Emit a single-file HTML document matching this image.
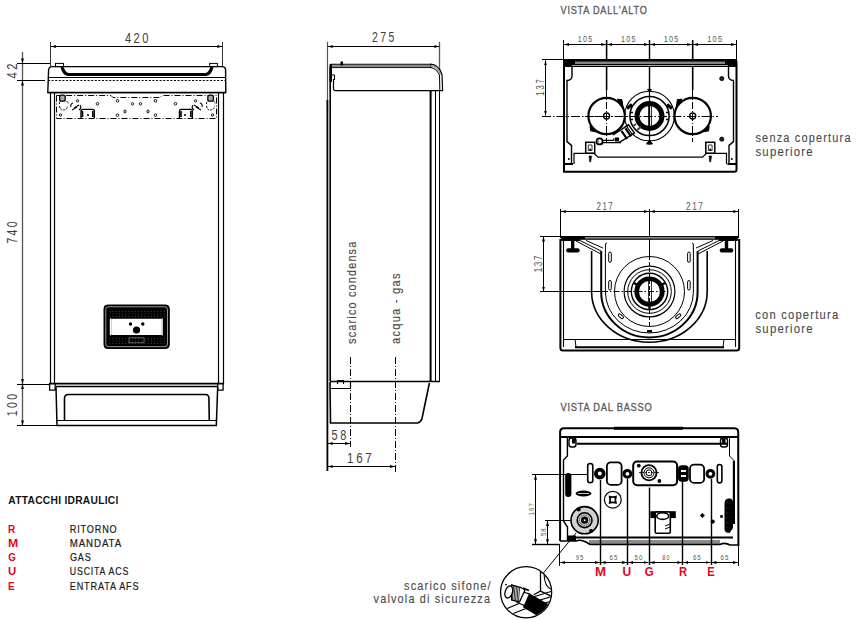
<!DOCTYPE html>
<html><head><meta charset="utf-8">
<style>
html,body{margin:0;padding:0;background:#fff;width:859px;height:620px;overflow:hidden}
svg{display:block}
text{font-family:"Liberation Sans",sans-serif}
.dt{fill:#3a3a3a;font-size:12px}
.lb{fill:#5a5a5a;font-size:12px}
.ttl{fill:#5a5a5a;font-size:12px}
</style></head><body>
<svg width="859" height="620" viewBox="0 0 859 620">
<defs>
<marker id="ar" viewBox="0 0 5 3" refX="5" refY="1.5" markerWidth="5" markerHeight="3" orient="auto-start-reverse" markerUnits="userSpaceOnUse"><path d="M0,0 L5,1.5 L0,3 z" fill="#000"/></marker>
</defs>

<!-- ================= FRONT VIEW ================= -->
<g id="front" fill="none" stroke="#000">
  <!-- dim 420 -->
  <line x1="50.5" y1="42" x2="50.5" y2="66" stroke="#333" stroke-width="1"/>
  <line x1="222.5" y1="42" x2="222.5" y2="66" stroke="#333" stroke-width="1"/>
  <line x1="51" y1="46.5" x2="222.3" y2="46.5" stroke-width="1" marker-start="url(#ar)" marker-end="url(#ar)"/>
  <!-- vertical dims -->
  <line x1="22.5" y1="52" x2="22.5" y2="425.5" stroke="#555" stroke-width="1.3"/>
  <line x1="17" y1="63.5" x2="50" y2="63.5" stroke-width="1"/>
  <line x1="17" y1="80.5" x2="45" y2="80.5" stroke-width="1"/>
  <line x1="17" y1="384.5" x2="50" y2="384.5" stroke-width="1"/>
  <line x1="17" y1="425.5" x2="57" y2="425.5" stroke-width="1"/>

  <path d="M21.1,58.5 L23.9,58.5 L22.5,63.5 Z M21.1,85.5 L23.9,85.5 L22.5,80.5 Z M21.1,379 L23.9,379 L22.5,384 Z M21.1,389 L23.9,389 L22.5,384 Z M21.1,420.5 L23.9,420.5 L22.5,425.5 Z" fill="#000" stroke="none"/>
  <!-- top cap -->
  <path d="M47.8,92.6 L48.6,70 Q49,66.6 52,66.6 L222,66.6 Q225.5,66.6 225.6,70 L225.8,92.6 Z" stroke-width="1.4"/>
  <rect x="55.5" y="63.4" width="8" height="3.2" stroke-width="1"/>
  <rect x="209.7" y="63.4" width="7.7" height="3.2" stroke-width="1"/>
  <path d="M62,67 Q64,74 68,74.5 L206,74.5 Q210,74 212,67" stroke-width="3.2"/>
  <line x1="48" y1="77.5" x2="225.6" y2="77.5" stroke-width="1"/>
  <line x1="48" y1="80.5" x2="225.6" y2="80.5" stroke-width="1" stroke-dasharray="2,1.6"/>
  <line x1="48" y1="92.5" x2="225.8" y2="92.5" stroke-width="1.4"/>

  <!-- body sides -->
  <line x1="50.5" y1="92.6" x2="50.5" y2="384" stroke-width="1.2"/>
  <line x1="54.5" y1="92.6" x2="54.5" y2="384" stroke-width="1.2"/>
  <line x1="218.5" y1="92.6" x2="218.5" y2="384" stroke-width="1.2"/>
  <line x1="223.5" y1="92.6" x2="223.5" y2="384" stroke-width="1.2"/>

  <!-- bracket plate -->
  <path d="M56.5,95.5 L56.5,118.5 L216.5,118.5 L216.5,95.5 L162,95.5 L160,97.5 L113,97.5 L111,95.5 Z" stroke-width="1" stroke-dasharray="6,2,1,2"/>
  <g id="plateL">
    <rect x="59.6" y="95.2" width="5.6" height="6" rx="2" fill="#aaa" stroke-width="1.3"/>
    <path d="M59.5,104 Q59,101.5 61,101.5 M66.5,101.5 Q68.5,101.5 68,104 M59.5,106 Q60,110 63,110 Q67,110 67.5,106" stroke-width="1" stroke-dasharray="2,1"/>
    <circle cx="60.5" cy="115" r="1.2" stroke-width="0.9"/>
    <circle cx="77.5" cy="100.8" r="1.2" stroke-width="0.9"/>
    <path d="M73,103 Q70,104 71,107 M74,108 L79,105 M72,110 L77,107 M79,110 Q82,108 80,105" stroke-width="1.1"/>
    <path d="M81,118 L81,111 Q81,109.4 83,109.4 L93,109.4 Q94.3,109.4 94.3,111 L94.3,118" stroke-width="1.4"/>
    <path d="M82.5,117 L82.5,111 M92.8,117 L92.8,111" stroke-width="1.6"/>
    <circle cx="88" cy="115" r="1" fill="#000" stroke="none"/>
    <circle cx="97.5" cy="103.8" r="1.3" stroke-width="0.9"/>
    <circle cx="117.5" cy="100.8" r="1.3" stroke-width="0.9"/>
    <circle cx="117.5" cy="115.2" r="1.3" stroke-width="0.9"/>
    <circle cx="132.5" cy="103.8" r="1.2" stroke-width="0.9"/>
    <circle cx="140.5" cy="103.8" r="1.2" stroke-width="0.9"/>
    <rect x="124" y="110" width="2" height="3" rx="1" stroke-width="0.9"/>
    <rect x="147" y="110" width="2" height="3" rx="1" stroke-width="0.9"/>
    <circle cx="155.5" cy="100.8" r="1.3" stroke-width="0.9"/>
    <circle cx="155.5" cy="115.2" r="1.3" stroke-width="0.9"/>
    <circle cx="175.5" cy="103.8" r="1.3" stroke-width="0.9"/>
    <path d="M179.5,118 L179.5,111 Q179.5,109.4 181,109.4 L191,109.4 Q192.3,109.4 192.3,111 L192.3,118" stroke-width="1.4"/>
    <path d="M181,117 L181,111 M190.8,117 L190.8,111" stroke-width="1.6"/>
    <circle cx="185" cy="115" r="1" fill="#000" stroke="none"/>
    <circle cx="195.5" cy="100.8" r="1.2" stroke-width="0.9"/>
    <path d="M200,103 Q203,104 202,107 M199,108 L194,105 M201,110 L196,107 M194,110 Q191,108 193,105" stroke-width="1.1"/>
    <rect x="207.8" y="95.2" width="5.6" height="6" rx="2" fill="#aaa" stroke-width="1.3"/>
    <path d="M206.5,104 Q206,101.5 208,101.5 M213.5,101.5 Q215.5,101.5 215,104 M206.5,106 Q207,110 210,110 Q214,110 214.5,106" stroke-width="1" stroke-dasharray="2,1"/>
    <circle cx="212.5" cy="115" r="1.2" stroke-width="0.9"/>
  </g>

  <!-- bottom -->
  <line x1="49" y1="383.6" x2="224" y2="383.6" stroke-width="1.8"/>
  <line x1="56" y1="386.6" x2="218" y2="386.6" stroke-width="1.5"/>
  <path d="M56,387 L57,425.5 L216.3,425.5 L217.7,387" stroke-width="1.5"/>
  <path d="M49.6,383.5 L49.6,390.2 L55.2,390.2 L55.2,383.5" stroke-width="1.3"/>
  <path d="M217.7,383.5 L217.7,390.2 L223.1,390.2 L223.1,383.5" stroke-width="1.3"/>
  <path d="M64.5,421 L64.5,398 Q64.8,394.5 68.5,394.5 L205.5,394.5 Q208.8,394.6 208.9,398 L209.3,421" stroke-width="1.6"/>
  <line x1="57" y1="420.5" x2="217" y2="420.5" stroke-width="1"/>

  <!-- control panel -->
  <rect x="104" y="305" width="65.3" height="43.5" rx="3.5" fill="#000" stroke-width="1"/>
  <rect x="105.8" y="306.8" width="61.7" height="39.9" rx="2.5" stroke="#fff" stroke-width="0.6"/>
  <rect x="111.3" y="318.8" width="50" height="16.3" rx="1" fill="#fff" stroke="none"/>
  <g fill="#888" stroke="none"><rect x="109.5" y="311.0" width="0.7" height="0.7"/><rect x="112.7" y="311.0" width="0.7" height="0.7"/><rect x="115.9" y="311.0" width="0.7" height="0.7"/><rect x="119.1" y="311.0" width="0.7" height="0.7"/><rect x="122.3" y="311.0" width="0.7" height="0.7"/><rect x="125.5" y="311.0" width="0.7" height="0.7"/><rect x="128.7" y="311.0" width="0.7" height="0.7"/><rect x="131.9" y="311.0" width="0.7" height="0.7"/><rect x="135.1" y="311.0" width="0.7" height="0.7"/><rect x="138.3" y="311.0" width="0.7" height="0.7"/><rect x="141.5" y="311.0" width="0.7" height="0.7"/><rect x="144.7" y="311.0" width="0.7" height="0.7"/><rect x="147.9" y="311.0" width="0.7" height="0.7"/><rect x="151.1" y="311.0" width="0.7" height="0.7"/><rect x="154.3" y="311.0" width="0.7" height="0.7"/><rect x="157.5" y="311.0" width="0.7" height="0.7"/><rect x="160.7" y="311.0" width="0.7" height="0.7"/><rect x="163.9" y="311.0" width="0.7" height="0.7"/><rect x="109.5" y="313.6" width="0.7" height="0.7"/><rect x="112.7" y="313.6" width="0.7" height="0.7"/><rect x="115.9" y="313.6" width="0.7" height="0.7"/><rect x="119.1" y="313.6" width="0.7" height="0.7"/><rect x="122.3" y="313.6" width="0.7" height="0.7"/><rect x="125.5" y="313.6" width="0.7" height="0.7"/><rect x="128.7" y="313.6" width="0.7" height="0.7"/><rect x="131.9" y="313.6" width="0.7" height="0.7"/><rect x="135.1" y="313.6" width="0.7" height="0.7"/><rect x="138.3" y="313.6" width="0.7" height="0.7"/><rect x="141.5" y="313.6" width="0.7" height="0.7"/><rect x="144.7" y="313.6" width="0.7" height="0.7"/><rect x="147.9" y="313.6" width="0.7" height="0.7"/><rect x="151.1" y="313.6" width="0.7" height="0.7"/><rect x="154.3" y="313.6" width="0.7" height="0.7"/><rect x="157.5" y="313.6" width="0.7" height="0.7"/><rect x="160.7" y="313.6" width="0.7" height="0.7"/><rect x="163.9" y="313.6" width="0.7" height="0.7"/><rect x="109.5" y="316.2" width="0.7" height="0.7"/><rect x="112.7" y="316.2" width="0.7" height="0.7"/><rect x="115.9" y="316.2" width="0.7" height="0.7"/><rect x="119.1" y="316.2" width="0.7" height="0.7"/><rect x="122.3" y="316.2" width="0.7" height="0.7"/><rect x="125.5" y="316.2" width="0.7" height="0.7"/><rect x="128.7" y="316.2" width="0.7" height="0.7"/><rect x="131.9" y="316.2" width="0.7" height="0.7"/><rect x="135.1" y="316.2" width="0.7" height="0.7"/><rect x="138.3" y="316.2" width="0.7" height="0.7"/><rect x="141.5" y="316.2" width="0.7" height="0.7"/><rect x="144.7" y="316.2" width="0.7" height="0.7"/><rect x="147.9" y="316.2" width="0.7" height="0.7"/><rect x="151.1" y="316.2" width="0.7" height="0.7"/><rect x="154.3" y="316.2" width="0.7" height="0.7"/><rect x="157.5" y="316.2" width="0.7" height="0.7"/><rect x="160.7" y="316.2" width="0.7" height="0.7"/><rect x="163.9" y="316.2" width="0.7" height="0.7"/><rect x="109.5" y="338.0" width="0.7" height="0.7"/><rect x="112.7" y="338.0" width="0.7" height="0.7"/><rect x="115.9" y="338.0" width="0.7" height="0.7"/><rect x="119.1" y="338.0" width="0.7" height="0.7"/><rect x="122.3" y="338.0" width="0.7" height="0.7"/><rect x="125.5" y="338.0" width="0.7" height="0.7"/><rect x="128.7" y="338.0" width="0.7" height="0.7"/><rect x="131.9" y="338.0" width="0.7" height="0.7"/><rect x="135.1" y="338.0" width="0.7" height="0.7"/><rect x="138.3" y="338.0" width="0.7" height="0.7"/><rect x="141.5" y="338.0" width="0.7" height="0.7"/><rect x="144.7" y="338.0" width="0.7" height="0.7"/><rect x="147.9" y="338.0" width="0.7" height="0.7"/><rect x="151.1" y="338.0" width="0.7" height="0.7"/><rect x="154.3" y="338.0" width="0.7" height="0.7"/><rect x="157.5" y="338.0" width="0.7" height="0.7"/><rect x="160.7" y="338.0" width="0.7" height="0.7"/><rect x="163.9" y="338.0" width="0.7" height="0.7"/><rect x="109.5" y="340.6" width="0.7" height="0.7"/><rect x="112.7" y="340.6" width="0.7" height="0.7"/><rect x="115.9" y="340.6" width="0.7" height="0.7"/><rect x="119.1" y="340.6" width="0.7" height="0.7"/><rect x="122.3" y="340.6" width="0.7" height="0.7"/><rect x="125.5" y="340.6" width="0.7" height="0.7"/><rect x="128.7" y="340.6" width="0.7" height="0.7"/><rect x="131.9" y="340.6" width="0.7" height="0.7"/><rect x="135.1" y="340.6" width="0.7" height="0.7"/><rect x="138.3" y="340.6" width="0.7" height="0.7"/><rect x="141.5" y="340.6" width="0.7" height="0.7"/><rect x="144.7" y="340.6" width="0.7" height="0.7"/><rect x="147.9" y="340.6" width="0.7" height="0.7"/><rect x="151.1" y="340.6" width="0.7" height="0.7"/><rect x="154.3" y="340.6" width="0.7" height="0.7"/><rect x="157.5" y="340.6" width="0.7" height="0.7"/><rect x="160.7" y="340.6" width="0.7" height="0.7"/><rect x="163.9" y="340.6" width="0.7" height="0.7"/><rect x="109.5" y="343.2" width="0.7" height="0.7"/><rect x="112.7" y="343.2" width="0.7" height="0.7"/><rect x="115.9" y="343.2" width="0.7" height="0.7"/><rect x="119.1" y="343.2" width="0.7" height="0.7"/><rect x="122.3" y="343.2" width="0.7" height="0.7"/><rect x="125.5" y="343.2" width="0.7" height="0.7"/><rect x="128.7" y="343.2" width="0.7" height="0.7"/><rect x="131.9" y="343.2" width="0.7" height="0.7"/><rect x="135.1" y="343.2" width="0.7" height="0.7"/><rect x="138.3" y="343.2" width="0.7" height="0.7"/><rect x="141.5" y="343.2" width="0.7" height="0.7"/><rect x="144.7" y="343.2" width="0.7" height="0.7"/><rect x="147.9" y="343.2" width="0.7" height="0.7"/><rect x="151.1" y="343.2" width="0.7" height="0.7"/><rect x="154.3" y="343.2" width="0.7" height="0.7"/><rect x="157.5" y="343.2" width="0.7" height="0.7"/><rect x="160.7" y="343.2" width="0.7" height="0.7"/><rect x="163.9" y="343.2" width="0.7" height="0.7"/></g>
  <rect x="109.8" y="318.3" width="1.6" height="17.2" rx="0.8" fill="#fff" stroke="none"/>
  <rect x="161.2" y="318.3" width="1.6" height="17.2" rx="0.8" fill="#fff" stroke="none"/>
  <rect x="129" y="337.8" width="15" height="5" fill="none" stroke="#999" stroke-width="0.6"/>
  <circle cx="130.5" cy="324" r="1.7" fill="#000" stroke="none"/>
  <circle cx="142.8" cy="324" r="1.7" fill="#000" stroke="none"/>
  <circle cx="136.5" cy="330" r="3.6" fill="#000" stroke="none"/>
</g>

<!-- ================= SIDE VIEW ================= -->
<g id="side" fill="none" stroke="#000">
  <line x1="327.5" y1="41.8" x2="327.5" y2="110" stroke="#555" stroke-width="1.2"/>
  <line x1="327.4" y1="100" x2="327.4" y2="471" stroke-width="1.8"/>
  <line x1="439.5" y1="41.8" x2="439.5" y2="70" stroke="#555" stroke-width="1.3"/>
  <line x1="327.6" y1="46.5" x2="439.4" y2="46.5" stroke-width="1" marker-start="url(#ar)" marker-end="url(#ar)"/>
  <line x1="330.2" y1="66" x2="330.2" y2="381" stroke-width="1.6"/>
  <!-- cap -->
  <rect x="331" y="64.2" width="100" height="3.4" fill="#8c8c8c" stroke="#000" stroke-width="0.9"/>
  <path d="M430.5,64.2 Q438.5,64.5 442,74.5 L442.6,90.6 L335,90.6 Q334,90.6 333.5,89 L333.5,79" stroke-width="1.2"/>
  <path d="M430.5,67.6 Q436,68 439.5,75 L439.8,90" stroke-width="1"/>
  <path d="M431,65.8 Q437,66.5 440.6,74.5" stroke="#999" stroke-width="1.4"/>
  <rect x="340.5" y="61.5" width="2.5" height="4" fill="#000" stroke="none"/>
  <rect x="329.6" y="64" width="2.4" height="18" fill="#000" stroke="none"/>
  <path d="M332,75 L334.5,75 L334.5,80" stroke-width="1"/>
  <!-- body -->
  <line x1="430.6" y1="90.8" x2="430.6" y2="381.5" stroke-width="2"/>
  <line x1="435.5" y1="90.8" x2="435.5" y2="381.5" stroke-width="1"/>
  <line x1="439.5" y1="90.8" x2="439.5" y2="381.5" stroke-width="1"/>
  <line x1="330" y1="381.5" x2="440" y2="381.5" stroke-width="1.7"/>
  <!-- tray -->
  <path d="M330,382 L330.5,423 L417.7,423 Q421,422 422,418.5 L429.4,383" stroke-width="1.6"/>
  <path d="M330,388.5 L350.5,388.5 L350.5,381" stroke-width="1.2"/>
  <path d="M337.5,384 L337.5,380.5 L343.5,380.5 L343.5,384" stroke-width="1.2"/>
  <!-- dash-dot lines -->
  <line x1="350.5" y1="357" x2="350.5" y2="447" stroke-width="1" stroke-dasharray="7,2,1,2"/>
  <line x1="395.5" y1="357" x2="395.5" y2="472" stroke-width="1" stroke-dasharray="7,2,1,2"/>
  <!-- dims 58 & 167 -->
  <line x1="327.6" y1="443.5" x2="350.1" y2="443.5" stroke-width="1" marker-start="url(#ar)" marker-end="url(#ar)"/>
  <line x1="327.6" y1="466.5" x2="394.9" y2="466.5" stroke-width="1" marker-start="url(#ar)" marker-end="url(#ar)"/>
</g>

<!-- ================= TOP VIEW ================= -->
<g id="top" fill="none" stroke="#000">
  <!-- dims 105 -->
  <line x1="564.0" y1="44.5" x2="606.1" y2="44.5" stroke-width="1" marker-start="url(#ar)" marker-end="url(#ar)"/>
  <line x1="607.1" y1="44.5" x2="649.0" y2="44.5" stroke-width="1" marker-start="url(#ar)" marker-end="url(#ar)"/>
  <line x1="650.0" y1="44.5" x2="692.2" y2="44.5" stroke-width="1" marker-start="url(#ar)" marker-end="url(#ar)"/>
  <line x1="693.2" y1="44.5" x2="736.0" y2="44.5" stroke-width="1" marker-start="url(#ar)" marker-end="url(#ar)"/>
  <line x1="563.5" y1="40" x2="563.5" y2="62" stroke-width="1"/>
  <line x1="736.5" y1="40" x2="736.5" y2="62" stroke-width="1"/>
  <line x1="649.5" y1="40" x2="649.5" y2="92" stroke-width="1.4"/>
  <line x1="606.6" y1="40" x2="606.6" y2="90" stroke-width="1.6"/>
  <line x1="692.7" y1="40" x2="692.7" y2="90" stroke-width="1.6"/>
  <line x1="606.5" y1="90" x2="606.5" y2="142" stroke-width="1" stroke-dasharray="7,2,1,2"/>
  <line x1="692.5" y1="90" x2="692.5" y2="142" stroke-width="1" stroke-dasharray="7,2,1,2"/>
  <!-- dim 137 -->
  <line x1="545.5" y1="60.4" x2="545.5" y2="115.5" stroke-width="1" marker-start="url(#ar)" marker-end="url(#ar)"/>
  <line x1="542" y1="59.5" x2="566" y2="59.5" stroke-width="1"/>
  <line x1="542" y1="116.5" x2="718" y2="116.5" stroke-width="1" stroke-dasharray="9,2,1.5,2"/>
  <!-- body -->
  <path d="M564,171.8 L564,62 Q564,60 566,60 L734.5,60 Q736.5,60 736.5,62 L736.5,170 Q736.5,171.8 734.5,171.8 Z" stroke-width="2"/>
  <rect x="565" y="60.5" width="171" height="6.5" fill="#000" stroke="none"/>
  <rect x="575" y="61.5" width="150" height="2.5" fill="#858585" stroke="none"/>
  <rect x="572" y="65" width="156" height="0.7" fill="#eee" stroke="none"/>
  <path d="M567,90 L567,141.6 L571.5,145.4 L571.5,163.4 M572,67 L572,76 Q572,80 567,80.5 L567,92" stroke-width="1.4"/>
  <path d="M733.5,90 L733.5,141.6 L729,145.4 L729,163.4 M728.5,67 L728.5,76 Q728.5,80 733.5,80.5 L733.5,92" stroke-width="1.4"/>
  <path d="M564,164 L573,164 M727.5,164 L736,164" stroke-width="2.2"/>
  <path d="M574,164 L574,153.4 L594,153.4 L598,157.2 L702.5,157.2 L706.5,153.4 L726.5,153.4 L726.5,164" stroke-width="1.2"/>
  <circle cx="568.8" cy="159" r="1" fill="#000" stroke="none"/>
  <circle cx="731.8" cy="159" r="1" fill="#000" stroke="none"/>
  <rect x="585.7" y="142.3" width="9" height="11" stroke-width="1.5"/>
  <rect x="705.8" y="142.3" width="9" height="11" stroke-width="1.5"/>
  <path d="M588.3,145 L592,145 L592,150.5 L588.3,150.5 Z M705.8,142.3" stroke-width="0.8"/>
  <path d="M708.4,145 L712.1,145 L712.1,150.5 L708.4,150.5 Z" stroke-width="0.8"/>
  <circle cx="590.2" cy="149.5" r="1" fill="#000" stroke="none"/>
  <circle cx="710.2" cy="149.5" r="1" fill="#000" stroke="none"/>
  <path d="M589,156 L591.6,156 L590.6,162 L589.8,162 Z" fill="#000" stroke-width="0.6"/>
  <path d="M709,156 L711.6,156 L710.6,162 L709.8,162 Z" fill="#000" stroke-width="0.6"/>
  <circle cx="721.8" cy="78.6" r="2.1" fill="#222" stroke-width="0.8"/>
  <circle cx="721.8" cy="139.2" r="2.1" fill="#222" stroke-width="0.8"/>
  <!-- left & right circles -->
  <circle cx="606.6" cy="116" r="18.2" stroke-width="2.2"/>
  <circle cx="606.6" cy="116" r="3" stroke-width="1.3"/>
  <circle cx="692.7" cy="116" r="18.2" stroke-width="2.2"/>
  <circle cx="692.7" cy="116" r="3" stroke-width="1.3"/>
  <line x1="585" y1="116.5" x2="628" y2="116.5" stroke-width="1" stroke-dasharray="5,2,1,2"/>
  <!-- center -->
  <circle cx="649.5" cy="116" r="24.8" stroke-width="1.1"/>
  <circle cx="649.5" cy="116" r="19.6" stroke-width="1.5"/>
  <circle cx="649.5" cy="116" r="12.5" stroke-width="5"/>
  <path d="M630,112.5 L633,112.5 M630,119.5 L633,119.5 M666,112.5 L669,112.5 M666,119.5 L669,119.5" stroke-width="1.6"/>
  <path d="M647.5,89.5 L651.5,89.5 L649.5,92 Z M646.5,144 L652.5,144 L649.5,140 Z" fill="#000" stroke-width="1"/>
  <path d="M637,130 L641,127 M633,126 L636,124" stroke="#444" stroke-width="2"/>
  <line x1="648.5" y1="104" x2="648.5" y2="128" stroke-width="0.8"/>
  <line x1="651.5" y1="104" x2="651.5" y2="128" stroke-width="0.8"/>
  <line x1="649.5" y1="88" x2="649.5" y2="145" stroke-width="1.2"/>
  <!-- gas pipe -->
  <circle cx="599.6" cy="141.4" r="3" stroke-width="1.8"/>
  <path d="M597.6,139.4 L599.6,141.4 L597.6,143.4 Z" fill="#888" stroke="none"/>
  <path d="M602.5,140.4 L613.8,140.4 L613.8,138.2 M602.5,142.6 L617,142.6 L621,142.6" stroke-width="1.2"/>
  <rect x="615" y="137.5" width="4" height="4" fill="#000" stroke="none"/>
  <path d="M619,142.6 L634.5,133 L628.5,124.8 L613,135" stroke-width="1.4"/>
  <path d="M621.5,130.8 L627,139 M625.5,128.3 L631,136.4" stroke-width="2.2"/>
  <path d="M617.9,99.3 L621.8,99.7 L623,107 L619,103 Z" fill="#000" stroke-width="1.2"/>
  <path d="M590.3,126.8 L590.8,130.7 L595.6,131.7 L593,128 Z" fill="#000" stroke-width="1.2"/>
  <path d="M681.4,99.3 L677.5,99.7 L676.3,107 L680.3,103 Z" fill="#000" stroke-width="1.2"/>
  <path d="M709,126.8 L708.5,130.7 L703.7,131.7 L706.3,128 Z" fill="#000" stroke-width="1.2"/>
  <path d="M627,108.5 L632,104.5 M672,108.5 L667,104.5" stroke-width="3.4"/>
</g>

<!-- ================= MIDDLE VIEW ================= -->
<g id="mid" fill="none" stroke="#000">
  <!-- dims 217 -->
  <line x1="560.8" y1="211.5" x2="648.9" y2="211.5" stroke-width="1" marker-start="url(#ar)" marker-end="url(#ar)"/>
  <line x1="649.9" y1="211.5" x2="738.3" y2="211.5" stroke-width="1" marker-start="url(#ar)" marker-end="url(#ar)"/>
  <line x1="560.5" y1="209" x2="560.5" y2="238" stroke-width="1"/>
  <line x1="738.5" y1="209" x2="738.5" y2="238" stroke-width="1"/>
  <line x1="649.5" y1="209" x2="649.5" y2="256" stroke-width="1"/>
  <!-- dim 137 -->
  <line x1="543.5" y1="236.6" x2="543.5" y2="291.6" stroke-width="1" marker-start="url(#ar)" marker-end="url(#ar)"/>
  <line x1="540" y1="236.5" x2="562" y2="236.5" stroke-width="1"/>
  <line x1="540" y1="291.5" x2="602" y2="291.5" stroke-width="1"/>
  <line x1="602" y1="291.5" x2="668" y2="291.5" stroke-width="1" stroke-dasharray="6,2,1.5,2"/>
  <!-- body -->
  <path d="M560.4,239 L560.4,348 Q560.5,350.6 563,350.6 L736.5,350.6 Q739.2,350.6 739.2,348 L739.2,239" stroke-width="2"/>
  <line x1="563.5" y1="240" x2="563.5" y2="347" stroke-width="1.1"/>
  <line x1="735.5" y1="240" x2="735.5" y2="347" stroke-width="1.1"/>
  <rect x="561" y="236" width="177" height="3.8" fill="#000" stroke="none"/>
  <rect x="585" y="236.9" width="130" height="1.8" fill="#858585" stroke="none"/>
  <path d="M561,241 Q562,238 566,237.5 L580,236 L580,241 Z" fill="#000" stroke="none"/>
  <path d="M738,241 Q737,238 733,237.5 L719,236 L719,241 Z" fill="#000" stroke="none"/>
  <line x1="563.5" y1="339.5" x2="735.6" y2="339.5" stroke-width="1"/>
  <line x1="575" y1="347.2" x2="724" y2="347.2" stroke-width="2"/>
  <line x1="575" y1="339" x2="576" y2="347" stroke-width="1"/>
  <line x1="724" y1="339" x2="723" y2="347" stroke-width="1"/>
  <!-- T brackets -->
  <path d="M572.7,240 L572.7,249" stroke-width="3.4"/>
  <rect x="566.1" y="248.2" width="13.6" height="4.4" rx="2" fill="#000" stroke="none"/>
  <path d="M726.5,240 L726.5,249" stroke-width="3.4"/>
  <rect x="719.7" y="248.2" width="13.6" height="4.4" rx="2" fill="#000" stroke="none"/>
  <!-- diagonal bands -->
  <path d="M576,241 L601,254 M580,240.5 L601,251 M586,240.5 L603,248" stroke-width="1"/>
  <path d="M723,241 L698,254 M719,240.5 L698,251 M713,240.5 L696,248" stroke-width="1"/>
  <!-- U walls -->
  <path d="M591.6,251 L591.6,291.5 A57.8,50.7 0 0 0 707.2,291.5 L707.2,251" stroke-width="1.6"/>
  <path d="M601.2,251 L601.2,292 A48.2,45.5 0 0 0 697.6,292 L697.6,251" stroke-width="2"/>
  <path d="M605.4,245 Q605.4,243 607,243 M605.4,245 L605.4,292 A44,41 0 0 0 693.4,292 L693.4,245 Q693.4,243 692,243" stroke-width="1"/>
  <!-- slots -->
  <rect x="608.7" y="252.1" width="2.6" height="10.2" rx="1.3" stroke-width="1"/>
  <rect x="608.7" y="280.5" width="2.6" height="9.5" rx="1.3" stroke-width="1"/>
  <rect x="687.6" y="252.1" width="2.6" height="10.2" rx="1.3" stroke-width="1"/>
  <rect x="687.6" y="280.5" width="2.6" height="9.5" rx="1.3" stroke-width="1"/>
  <rect x="618" y="315" width="6" height="2.6" rx="1.3" transform="rotate(40 621 316)" stroke-width="1"/>
  <rect x="675" y="315" width="6" height="2.6" rx="1.3" transform="rotate(-40 678 316)" stroke-width="1"/>
  <rect x="647" y="330" width="5" height="2.5" fill="#000" stroke="none"/>
  <!-- circles -->
  <circle cx="649.5" cy="291.5" r="35" stroke-width="1"/>
  <circle cx="649.5" cy="291.5" r="25.4" stroke-width="1.2"/>
  <circle cx="649.5" cy="291.5" r="21.8" stroke-width="1"/>
  <circle cx="649.5" cy="291.5" r="18.2" stroke-width="1.4"/>
  <path d="M634,283 L637.5,285 M665,283 L661.5,285 M649.5,309.5 L649.5,306" stroke-width="2.4"/>
  <circle cx="649.5" cy="291.5" r="12.8" stroke-width="4.6"/>
  <line x1="648.5" y1="280" x2="648.5" y2="303" stroke-width="0.8"/>
  <line x1="651.5" y1="280" x2="651.5" y2="303" stroke-width="0.8"/>
  <line x1="649.5" y1="256" x2="649.5" y2="328" stroke-width="1" stroke-dasharray="4,2"/>
</g>

<!-- ================= BOTTOM VIEW ================= -->
<g id="bot" fill="none" stroke="#000">
  <!-- outer body -->
  <path d="M560.1,541 L560.1,432 Q560.3,428.3 564,428.3 L734.5,428.3 Q738.2,428.5 738.2,432 L738.4,546" stroke-width="2"/>
  <line x1="560" y1="437" x2="738" y2="437" stroke-width="2"/>
  <line x1="614" y1="428.3" x2="683" y2="428.3" stroke-width="3"/>
  <line x1="577" y1="443.7" x2="727" y2="443.7" stroke-width="2"/>
  <path d="M567.4,437 L567.4,456 L563.5,460 L563.5,521 L567.5,527 L567.5,540" stroke-width="1.4"/>
  <path d="M729.5,437 L729.5,456 L734.5,461 L734.5,524" stroke-width="1"/>
  <line x1="733.6" y1="461" x2="733.6" y2="524" stroke-width="1.6"/>
  <!-- corner nubs -->
  <rect x="569" y="438" width="7" height="9" rx="2.5" stroke-width="1.4"/>
  <rect x="572" y="438.5" width="3.5" height="5" fill="#000" stroke="none"/>
  <rect x="720.5" y="438" width="7" height="9" rx="2.5" stroke-width="1.4"/>
  <rect x="722" y="438.5" width="3.5" height="5" fill="#000" stroke="none"/>
  <!-- bottom -->
  <line x1="569" y1="537.5" x2="733" y2="537.5" stroke-width="2"/>
  <rect x="589" y="540" width="131" height="4.3" fill="#8a8a8a" stroke="none"/>
  <path d="M560,541 L576,541 Q580,539 586,542 L590,544.5 L720,544.5 Q725,542 730,545 L738,545" stroke-width="1.6"/>
  <!-- top row elements -->
  <rect x="587.7" y="463.5" width="5.1" height="19.2" rx="2.5" stroke-width="1.6"/>
  <circle cx="599.8" cy="473.6" r="3.9" stroke-width="3.8"/>
  <rect x="606.9" y="462.3" width="14.7" height="22.6" rx="4" stroke-width="1.8"/>
  <circle cx="627.4" cy="473.8" r="3.4" stroke-width="3"/>
  <rect x="633.2" y="461.6" width="43.9" height="23.6" rx="4" stroke-width="2"/>
  <circle cx="649" cy="472.8" r="7.6" stroke-width="1.8"/>
  <circle cx="649" cy="472.8" r="5" stroke-width="1"/>
  <circle cx="649" cy="472.8" r="3" stroke-width="1"/>
  <line x1="639" y1="472.5" x2="659" y2="472.5" stroke-width="0.8" stroke-dasharray="2,1"/>
  <circle cx="638.8" cy="465.7" r="1.9" fill="#000" stroke="none"/>
  <circle cx="659.4" cy="481" r="1.9" fill="#000" stroke="none"/>
  <rect x="678.8" y="466" width="9.2" height="15" rx="3" fill="#000" stroke-width="1.5"/>
  <rect x="681" y="470" width="5" height="2" fill="#fff" stroke="none"/><rect x="681" y="475" width="5" height="2" fill="#fff" stroke="none"/>
  <rect x="690" y="464.7" width="14.1" height="18.2" rx="4" stroke-width="1.8"/>
  <circle cx="710.4" cy="473.8" r="3.4" stroke-width="3"/>
  <rect x="717.3" y="464.5" width="4.6" height="18.4" rx="2.3" stroke-width="1.6"/>
  <!-- left elements -->
  <rect x="565.2" y="473" width="6.2" height="24" rx="3" fill="#000" stroke="none"/>
  <ellipse cx="583.5" cy="493.5" rx="8" ry="2.9" fill="#000" stroke="none"/>
  <line x1="578" y1="493.5" x2="589" y2="493.5" stroke="#fff" stroke-width="0.8"/>
  <circle cx="612.8" cy="499.7" r="8.4" stroke-width="1.2"/>
  <path d="M608.6,495.5 Q612.8,497 617,495.5 Q615.5,499.7 617,503.9 Q612.8,502.4 608.6,503.9 Q610.1,499.7 608.6,495.5 Z" fill="#000" stroke="none"/>
  <rect x="611" y="497.9" width="3.6" height="3.6" fill="#fff" stroke="none"/>
  <!-- siphon -->
  <circle cx="584.6" cy="520.2" r="13.6" fill="#d2d2d2" stroke-width="1.6"/>
  <circle cx="584.6" cy="520.2" r="7.4" stroke-width="1.6"/>
  <circle cx="584.6" cy="520.2" r="5.2" stroke-width="0.8" stroke-dasharray="1.5,1"/>
  <circle cx="584.6" cy="520.2" r="3.6" fill="#000" stroke="none"/>
  <circle cx="584.6" cy="520.2" r="1" fill="#fff" stroke="none"/>
  <circle cx="578.7" cy="509.4" r="2" fill="#000" stroke="none"/>
  <circle cx="591.1" cy="531.1" r="2" fill="#000" stroke="none"/>
  <rect x="567" y="535.5" width="9" height="5.5" fill="#000" stroke="none"/>
  <!-- valve -->
  <rect x="650.4" y="511.2" width="25.4" height="6.9" fill="#000" stroke="none"/>
  <rect x="655.2" y="512" width="15.1" height="21.2" rx="1.5" fill="#fff" stroke-width="1.6"/>
  <ellipse cx="662.7" cy="516" rx="6" ry="3.4" stroke-width="1.6"/>
  <path d="M665,526 L670,524 M665,529 L670,527" stroke-width="1"/>
  <!-- dots and connector -->
  <path d="M702.4,513 L704.9,515.5 L702.4,518 L699.9,515.5 Z" fill="#000" stroke="none"/>
  <circle cx="712.7" cy="521.6" r="2.1" fill="#000" stroke="none"/>
  <rect x="720.2" y="515.2" width="2.6" height="2.6" fill="#000" stroke="none"/>
  <path d="M724.5,503 Q725,498.6 729,498.6 L731,498.6 L733,501 L733,528 Q731,531 729.5,533 Q724.5,533 724.5,529 Z" fill="#000" stroke="none"/>
  <g fill="#fff">
    <rect x="726" y="502" width="1.2" height="1.2"/><rect x="729.5" y="502" width="1.2" height="1.2"/>
    <rect x="726" y="507" width="1.2" height="1.2"/><rect x="729.5" y="507" width="1.2" height="1.2"/>
    <rect x="726" y="512" width="1.2" height="1.2"/><rect x="729.5" y="512" width="1.2" height="1.2"/>
    <rect x="726" y="517" width="1.2" height="1.2"/><rect x="729.5" y="517" width="1.2" height="1.2"/>
    <rect x="726" y="522" width="1.2" height="1.2"/><rect x="729.5" y="522" width="1.2" height="1.2"/>
    <rect x="726" y="527" width="1.2" height="1.2"/>
  </g>
  <!-- leader lines -->
  <line x1="600.5" y1="480" x2="600.5" y2="565" stroke-width="1.4"/>
  <line x1="627.5" y1="479" x2="627.5" y2="565" stroke-width="1.4"/>
  <line x1="649.5" y1="487.5" x2="649.5" y2="565" stroke-width="1.4"/>
  <line x1="682.5" y1="481" x2="682.5" y2="565" stroke-width="1.4"/>
  <line x1="711.5" y1="479" x2="711.5" y2="565" stroke-width="1.4"/>
  <!-- bottom dim -->
  <line x1="559.5" y1="544" x2="559.5" y2="566" stroke-width="1"/>
  <line x1="738.5" y1="546" x2="738.5" y2="566" stroke-width="1"/>
  <line x1="560.3" y1="562.5" x2="599.7" y2="562.5" stroke-width="1" marker-start="url(#ar)" marker-end="url(#ar)"/>
  <line x1="600.7" y1="562.5" x2="627.1" y2="562.5" stroke-width="1" marker-start="url(#ar)" marker-end="url(#ar)"/>
  <line x1="628.1" y1="562.5" x2="648.5" y2="562.5" stroke-width="1" marker-start="url(#ar)" marker-end="url(#ar)"/>
  <line x1="649.5" y1="562.5" x2="682.4" y2="562.5" stroke-width="1" marker-start="url(#ar)" marker-end="url(#ar)"/>
  <line x1="683.4" y1="562.5" x2="710.5" y2="562.5" stroke-width="1" marker-start="url(#ar)" marker-end="url(#ar)"/>
  <line x1="711.5" y1="562.5" x2="737.9" y2="562.5" stroke-width="1" marker-start="url(#ar)" marker-end="url(#ar)"/>
  <!-- 167 & 58 dims -->
  <line x1="535.5" y1="474.7" x2="535.5" y2="544.2" stroke-width="1" marker-start="url(#ar)" marker-end="url(#ar)"/>
  <line x1="532" y1="474.5" x2="587" y2="474.5" stroke-width="1"/>
  <line x1="547.5" y1="521" x2="547.5" y2="544.2" stroke-width="1" marker-start="url(#ar)" marker-end="url(#ar)"/>
  <line x1="545" y1="520.5" x2="571" y2="520.5" stroke-width="1"/>
  <line x1="532" y1="544.5" x2="560" y2="544.5" stroke-width="1.4"/>
  <!-- detail leader & circle -->
  <line x1="543.5" y1="572.9" x2="576" y2="533" stroke-width="1"/>
  <circle cx="526.1" cy="592.3" r="25.6" stroke-width="1.3"/>
  <g>
    <clipPath id="dc"><circle cx="526.1" cy="592.3" r="25"/></clipPath>
    <g clip-path="url(#dc)">
      <path d="M540.5,571 L540.5,591.1 L533.7,594.7 M540.5,591.1 L553,597" stroke-width="1.3"/>
      <path d="M544.1,574.8 Q544.6,587 551.5,589.5" stroke-width="1.1"/>
      <path d="M506,609 L519,603.5 M512,614 L526,608.5 M533,597 L551,591.5 M538.5,600.5 L553,596 M542,604 L553,600.5" stroke-width="1.2"/>
      <path d="M522.4,599.7 L528.7,592.9 L549,604.6 L545,612.5 L536.8,615.5 L523.3,607.4 Z" fill="#000" stroke="none"/>
      <path d="M519.5,591 L529.5,594 L524.5,605.5 L517,602.5 Z" fill="#fff" stroke-width="1.2"/>
      <path d="M511.6,585 L521,587.5 L525,590 L519.5,602 L511.6,600 Z" fill="#fff" stroke-width="1.3"/>
      <path d="M513.5,586 L512.5,599.5 M515,586.5 L514,600 M516.5,587 L515.5,600.5 M518,587.5 L517,601 M519.5,588 L518.5,601.3" stroke-width="0.8"/>
      <ellipse cx="508.8" cy="592" rx="3.6" ry="6.3" transform="rotate(18 508.8 592)" fill="#fff" stroke-width="1.3"/>
      <path d="M523,588 L529,590.5" stroke-width="1.6"/>
      <circle cx="506" cy="584.6" r="0.9" fill="#000" stroke="none"/>
    </g>
  </g>
</g>

<!-- TEXTS_START -->
<g id="texts">
<text transform="translate(124.89,42.70) scale(0.8519,1.1667)" font-family="Liberation Sans" font-size="13" font-weight="normal" letter-spacing="3.0" fill="#3c3c3c">420</text>
<text transform="translate(372.09,41.90) scale(0.8075,1.1111)" font-family="Liberation Sans" font-size="13" font-weight="normal" letter-spacing="3.0" fill="#3c3c3c">275</text>
<text transform="translate(17.40,78.62) rotate(-90) scale(0.8606,1.1444)" font-family="Liberation Sans" font-size="13" font-weight="normal" letter-spacing="3.0" fill="#3c3c3c">42</text>
<text transform="translate(17.20,243.60) rotate(-90) scale(0.8000,1.1222)" font-family="Liberation Sans" font-size="13" font-weight="normal" letter-spacing="3.0" fill="#3c3c3c">740</text>
<text transform="translate(17.40,416.31) rotate(-90) scale(0.8114,1.1444)" font-family="Liberation Sans" font-size="13" font-weight="normal" letter-spacing="3.0" fill="#3c3c3c">100</text>
<text transform="translate(331.58,439.60) scale(0.8364,1.1333)" font-family="Liberation Sans" font-size="13" font-weight="normal" letter-spacing="3.0" fill="#3c3c3c">58</text>
<text transform="translate(347.11,463.10) scale(0.8923,1.1778)" font-family="Liberation Sans" font-size="13" font-weight="normal" letter-spacing="3.0" fill="#3c3c3c">167</text>
<text transform="translate(355.80,343.93) rotate(-90) scale(0.9064,1.1385)" font-family="Liberation Sans" font-size="12" font-weight="normal" letter-spacing="1.3" fill="#4a4a4a" stroke="#4a4a4a" stroke-width="0.12">scarico condensa</text>
<text transform="translate(399.80,343.97) rotate(-90) scale(0.9324,1.0923)" font-family="Liberation Sans" font-size="12" font-weight="normal" letter-spacing="1.3" fill="#4a4a4a" stroke="#4a4a4a" stroke-width="0.12">acqua - gas</text>
<text transform="translate(560.50,14.40) scale(0.7645,0.9647)" font-family="Liberation Sans" font-size="12" font-weight="normal" letter-spacing="1.0" fill="#5b5b5b" stroke="#5b5b5b" stroke-width="0.35">VISTA DALL&#39;ALTO</text>
<text transform="translate(560.50,411.40) scale(0.7737,0.9412)" font-family="Liberation Sans" font-size="12" font-weight="normal" letter-spacing="1.0" fill="#5b5b5b" stroke="#5b5b5b" stroke-width="0.35">VISTA DAL BASSO</text>
<text transform="translate(577.76,41.60) scale(0.7169,0.8571)" font-family="Liberation Sans" font-size="10" font-weight="normal" letter-spacing="1.8" fill="#555555">105</text>
<text transform="translate(620.97,41.60) scale(0.7117,0.8571)" font-family="Liberation Sans" font-size="10" font-weight="normal" letter-spacing="1.8" fill="#555555">105</text>
<text transform="translate(663.65,41.60) scale(0.7273,0.8571)" font-family="Liberation Sans" font-size="10" font-weight="normal" letter-spacing="1.8" fill="#555555">105</text>
<text transform="translate(707.15,41.60) scale(0.7325,0.8571)" font-family="Liberation Sans" font-size="10" font-weight="normal" letter-spacing="1.8" fill="#555555">105</text>
<text transform="translate(544.10,95.71) rotate(-90) scale(0.8105,1.0857)" font-family="Liberation Sans" font-size="10" font-weight="normal" letter-spacing="1.8" fill="#555555">137</text>
<text transform="translate(596.50,209.80) scale(0.8000,1.0143)" font-family="Liberation Sans" font-size="10" font-weight="normal" letter-spacing="1.8" fill="#555555">217</text>
<text transform="translate(686.09,210.00) scale(0.8208,1.0143)" font-family="Liberation Sans" font-size="10" font-weight="normal" letter-spacing="1.8" fill="#555555">217</text>
<text transform="translate(541.60,272.22) rotate(-90) scale(0.8211,1.0143)" font-family="Liberation Sans" font-size="10" font-weight="normal" letter-spacing="1.8" fill="#555555">137</text>
<text transform="translate(575.70,559.80) scale(0.6000,0.7571)" font-family="Liberation Sans" font-size="10" font-weight="normal" letter-spacing="1.8" fill="#555555">95</text>
<text transform="translate(609.50,559.80) scale(0.6083,0.7571)" font-family="Liberation Sans" font-size="10" font-weight="normal" letter-spacing="1.8" fill="#555555">65</text>
<text transform="translate(634.50,559.80) scale(0.6083,0.7571)" font-family="Liberation Sans" font-size="10" font-weight="normal" letter-spacing="1.8" fill="#555555">50</text>
<text transform="translate(662.32,559.80) scale(0.5583,0.7571)" font-family="Liberation Sans" font-size="10" font-weight="normal" letter-spacing="1.8" fill="#555555">80</text>
<text transform="translate(692.90,559.80) scale(0.6083,0.7571)" font-family="Liberation Sans" font-size="10" font-weight="normal" letter-spacing="1.8" fill="#555555">65</text>
<text transform="translate(720.60,559.80) scale(0.6083,0.7571)" font-family="Liberation Sans" font-size="10" font-weight="normal" letter-spacing="1.8" fill="#555555">65</text>
<text transform="translate(533.70,515.25) rotate(-90) scale(0.5947,0.6857)" font-family="Liberation Sans" font-size="10" font-weight="normal" letter-spacing="1.8" fill="#555555">167</text>
<text transform="translate(545.80,536.10) rotate(-90) scale(0.6083,0.6857)" font-family="Liberation Sans" font-size="10" font-weight="normal" letter-spacing="1.8" fill="#555555">58</text>
<text transform="translate(594.97,575.90) scale(1.1059,1.0061)" font-family="Liberation Sans" font-size="12" font-weight="bold" letter-spacing="0" fill="#e2061a">M</text>
<text transform="translate(622.54,575.90) scale(1.0069,1.0061)" font-family="Liberation Sans" font-size="12" font-weight="bold" letter-spacing="0" fill="#e2061a">U</text>
<text transform="translate(644.82,575.90) scale(0.9500,1.0061)" font-family="Liberation Sans" font-size="12" font-weight="bold" letter-spacing="0" fill="#e2061a">G</text>
<text transform="translate(679.00,575.90) scale(0.9333,1.0061)" font-family="Liberation Sans" font-size="12" font-weight="bold" letter-spacing="0" fill="#e2061a">R</text>
<text transform="translate(707.20,575.90) scale(0.9333,1.0061)" font-family="Liberation Sans" font-size="12" font-weight="bold" letter-spacing="0" fill="#e2061a">E</text>
<text transform="translate(755.47,141.90) scale(0.9115,1.0769)" font-family="Liberation Sans" font-size="12" font-weight="normal" letter-spacing="1.3" fill="#4a4a4a" stroke="#4a4a4a" stroke-width="0.12">senza copertura</text>
<text transform="translate(755.46,155.50) scale(0.9456,1.0769)" font-family="Liberation Sans" font-size="12" font-weight="normal" letter-spacing="1.3" fill="#4a4a4a" stroke="#4a4a4a" stroke-width="0.12">superiore</text>
<text transform="translate(755.23,319.00) scale(0.9322,1.0769)" font-family="Liberation Sans" font-size="12" font-weight="normal" letter-spacing="1.3" fill="#4a4a4a" stroke="#4a4a4a" stroke-width="0.12">con copertura</text>
<text transform="translate(755.46,332.70) scale(0.9456,1.0769)" font-family="Liberation Sans" font-size="12" font-weight="normal" letter-spacing="1.3" fill="#4a4a4a" stroke="#4a4a4a" stroke-width="0.12">superiore</text>
<text transform="translate(403.97,590.00) scale(0.9140,1.0462)" font-family="Liberation Sans" font-size="12" font-weight="normal" letter-spacing="1.3" fill="#4a4a4a" stroke="#4a4a4a" stroke-width="0.12">scarico sifone/</text>
<text transform="translate(373.60,603.40) scale(0.9041,1.0615)" font-family="Liberation Sans" font-size="12" font-weight="normal" letter-spacing="1.3" fill="#4a4a4a" stroke="#4a4a4a" stroke-width="0.12">valvola di sicurezza</text>
<text transform="translate(8.27,503.80) scale(0.9319,1.0133)" font-family="Liberation Sans" font-size="11" font-weight="bold" letter-spacing="0.3" fill="#111111">ATTACCHI IDRAULICI</text>
<text transform="translate(8.11,532.70) scale(0.9143,1.0533)" font-family="Liberation Sans" font-size="11" font-weight="bold" letter-spacing="0" fill="#e2061a">R</text>
<text transform="translate(7.97,546.60) scale(1.1097,1.0533)" font-family="Liberation Sans" font-size="11" font-weight="bold" letter-spacing="0" fill="#e2061a">M</text>
<text transform="translate(8.35,560.60) scale(0.8933,1.0533)" font-family="Liberation Sans" font-size="11" font-weight="bold" letter-spacing="0" fill="#e2061a">G</text>
<text transform="translate(8.03,574.60) scale(1.0308,1.0533)" font-family="Liberation Sans" font-size="11" font-weight="bold" letter-spacing="0" fill="#e2061a">U</text>
<text transform="translate(8.12,589.60) scale(0.9120,1.0533)" font-family="Liberation Sans" font-size="11" font-weight="bold" letter-spacing="0" fill="#e2061a">E</text>
<text transform="translate(69.78,532.70) scale(0.8306,1.0194)" font-family="Liberation Sans" font-size="11" font-weight="normal" letter-spacing="1.0" fill="#1a1a1a" stroke="#1a1a1a" stroke-width="0.2">RITORNO</text>
<text transform="translate(69.74,546.60) scale(0.8852,1.0194)" font-family="Liberation Sans" font-size="11" font-weight="normal" letter-spacing="1.0" fill="#1a1a1a" stroke="#1a1a1a" stroke-width="0.2">MANDATA</text>
<text transform="translate(69.99,560.60) scale(0.8247,1.0194)" font-family="Liberation Sans" font-size="11" font-weight="normal" letter-spacing="1.0" fill="#1a1a1a" stroke="#1a1a1a" stroke-width="0.2">GAS</text>
<text transform="translate(69.80,574.60) scale(0.8028,1.0194)" font-family="Liberation Sans" font-size="11" font-weight="normal" letter-spacing="1.0" fill="#1a1a1a" stroke="#1a1a1a" stroke-width="0.2">USCITA ACS</text>
<text transform="translate(69.78,589.60) scale(0.8294,1.0194)" font-family="Liberation Sans" font-size="11" font-weight="normal" letter-spacing="1.0" fill="#1a1a1a" stroke="#1a1a1a" stroke-width="0.2">ENTRATA AFS</text>
</g>
<!-- TEXTS_END -->
</svg>
</body></html>
